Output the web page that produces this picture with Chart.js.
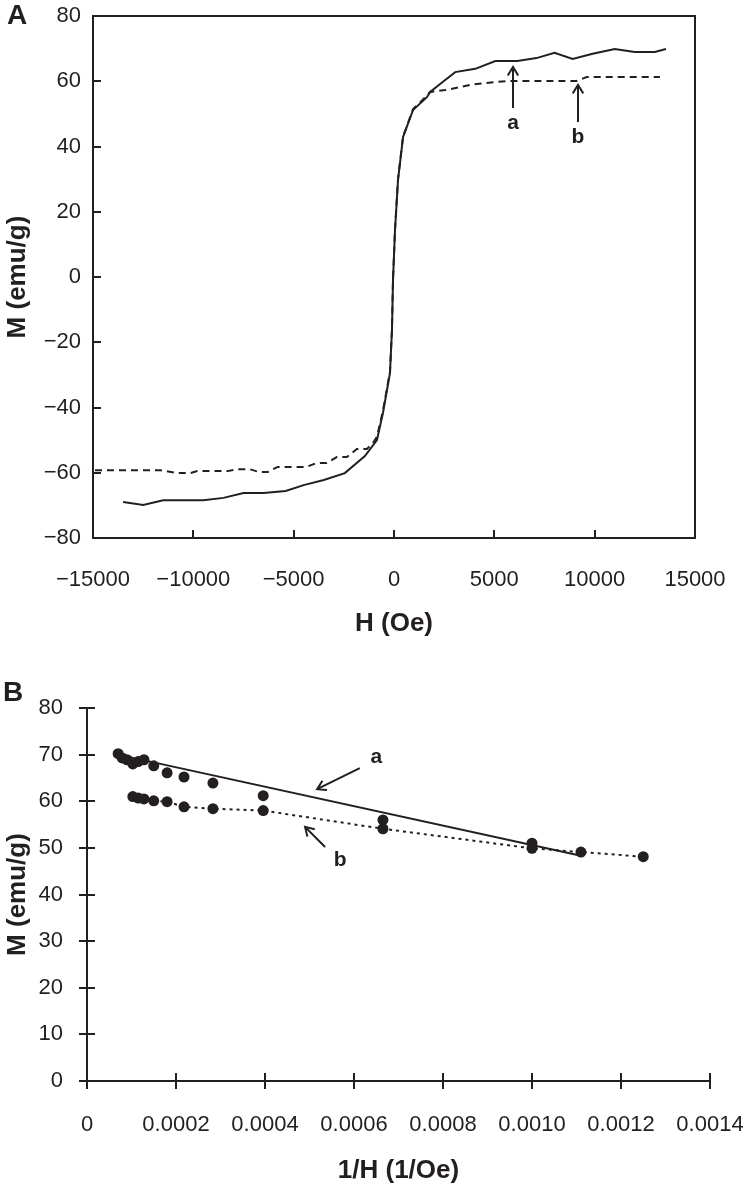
<!DOCTYPE html>
<html><head><meta charset="utf-8">
<script src="https://cdn.jsdelivr.net/npm/chart.js@4.4.1/dist/chart.umd.min.js"></script>
<style>
html,body{margin:0;padding:0;background:#fff;}
#wrap{position:relative;width:746px;height:1191px;overflow:hidden;}
#cA{position:absolute;left:0;top:0;}
#cB{position:absolute;left:0;top:660px;}
.lbl{position:absolute;font-family:"Liberation Sans",Arial,sans-serif;font-weight:bold;color:#231f20;font-size:28px;line-height:28px;}
</style></head>
<body>
<div id="wrap">
<canvas id="cA" width="746" height="639"></canvas>
<canvas id="cB" width="746" height="531"></canvas>
<div class="lbl" style="left:7px;top:1px;">A</div>
<div class="lbl" style="left:3px;top:678px;">B</div>
</div>
<script>
// ---------- Panel A data ----------
const hA_a = [-13500,-12500,-11500,-9500,-8500,-7500,-6500,-5400,-4500,-3500,-2450,-1450,-850,-550,-200,-100,-50,50,200,450,950,1650,1800,2550,3050,4050,5050,6150,7100,8000,8900,9900,11000,12000,13000,13550];
const mA_a = [-69.0,-69.9,-68.4,-68.4,-67.7,-66.2,-66.2,-65.6,-63.8,-62.2,-60.1,-54.9,-50.0,-41.7,-29.4,-16.0,-1.0,14.4,29.7,42.9,51.2,55.2,56.7,60.4,62.8,63.8,66.2,66.2,67.1,68.7,66.8,68.4,69.9,69.0,69.0,69.9];
const hA_b = [-14900,-11650,-10800,-10150,-9800,-8300,-7800,-7200,-6700,-6300,-5800,-4350,-3850,-3350,-2850,-2350,-1850,-1350,-1050,-850,-550,-200,-100,-50,50,200,450,950,1300,1800,2550,3300,3800,5150,5800,9100,9600,13250];
const mA_b = [-59.2,-59.2,-60.1,-60.1,-59.5,-59.5,-58.9,-58.9,-59.8,-59.8,-58.2,-58.2,-57.0,-57.0,-55.2,-55.2,-52.7,-52.7,-50.9,-49.0,-41.0,-29.0,-16.0,-1.0,14.4,30.0,43.0,51.5,53.5,56.7,57.3,58.2,58.9,59.8,60.1,60.1,61.3,61.3];
const xTicksA = [-15000,-10000,-5000,0,5000,10000,15000];
const yTicksA = [-80,-60,-40,-20,0,20,40,60,80];
// arrows A: [x, yTail, yHead, yLabel]
const arrowA_a = [5930, 51.8, 64.4, 47.2];
const arrowA_b = [9170, 47.5, 58.9, 43.0];

// ---------- Panel B data ----------
const vB_a = [0.000070,0.000079,0.000090,0.000103,0.000115,0.000128,0.000150,0.000180,0.000218,0.000283,0.000396,0.000665,0.001000,0.001110];
const mB_a = [70.2,69.3,68.9,68.0,68.5,68.9,67.6,66.1,65.2,63.9,61.2,56.0,51.0,49.1];
const vB_b = [0.000103,0.000115,0.000128,0.000150,0.000180,0.000218,0.000283,0.000396,0.000665,0.001000,0.001250];
const mB_b = [61.0,60.7,60.5,60.1,59.9,58.8,58.4,58.0,54.1,49.9,48.1];
const fitV_a = [0.00007,0.00111];
const fitM_a = [70.0,48.3];
const xTicksB = [0,0.0002,0.0004,0.0006,0.0008,0.0010,0.0012,0.0014];
const yTicksB = [0,10,20,30,40,50,60,70,80];
// arrows B: [xTail,yTail,xHead,yHead,xLabel,yLabel]
const arrowB_a = [0.000613,67.1,0.000517,62.6,0.00065,69.5];
const arrowB_b = [0.000535,50.2,0.00049,54.5,0.000569,47.4];

const INK = '#231f20';
const FONT = '"Liberation Sans", Arial, sans-serif';
const tickFont = {family: FONT, size: 22};
const titleFont = {family: FONT, size: 26, weight: 'bold'};

function zip(xs, ys){ return xs.map((x,i)=>({x:x,y:ys[i]})); }
function fmtA(v){ return v < 0 ? '\u2212' + Math.abs(v) : String(v); }
function fmtB(v){ if (v === 0) return '0'; return v.toFixed(4); }
function noPad(s){ s.paddingLeft = 0; s.paddingRight = 0; s.paddingTop = 0; s.paddingBottom = 0; }

function drawArrow(ctx, x1, y1, x2, y2){
  const ang = Math.atan2(y2-y1, x2-x1);
  const L = 10, W = 0.55;
  ctx.beginPath();
  ctx.moveTo(x1,y1); ctx.lineTo(x2,y2);
  ctx.moveTo(x2 - L*Math.cos(ang-W), y2 - L*Math.sin(ang-W));
  ctx.lineTo(x2,y2);
  ctx.lineTo(x2 - L*Math.cos(ang+W), y2 - L*Math.sin(ang+W));
  ctx.stroke();
}

const decoPlugin = {
  id: 'deco',
  afterDraw(chart, args, o){
    const ctx = chart.ctx, xs = chart.scales.x, ys = chart.scales.y, ca = chart.chartArea;
    ctx.save();
    ctx.strokeStyle = INK; ctx.fillStyle = INK; ctx.lineWidth = 2; ctx.lineCap = 'butt';
    if (o.box) { ctx.strokeRect(ca.left, ca.top, ca.right-ca.left, ca.bottom-ca.top); }
    xs.ticks.forEach(t => {
      const px = Math.round(xs.getPixelForValue(t.value));
      ctx.beginPath(); ctx.moveTo(px, ca.bottom + o.out); ctx.lineTo(px, ca.bottom - o.inn); ctx.stroke();
    });
    ys.ticks.forEach(t => {
      const py = Math.round(ys.getPixelForValue(t.value));
      ctx.beginPath(); ctx.moveTo(ca.left - o.out, py); ctx.lineTo(ca.left + o.inn, py); ctx.stroke();
    });
    ctx.font = 'bold 21px ' + FONT;
    ctx.textAlign = 'center'; ctx.textBaseline = 'middle';
    (o.vArrows || []).forEach(a => {
      const px = xs.getPixelForValue(a[0]);
      drawArrow(ctx, px, ys.getPixelForValue(a[1]), px, ys.getPixelForValue(a[2]));
      ctx.fillText(a[4], px, ys.getPixelForValue(a[3]));
    });
    (o.arrows || []).forEach(a => {
      drawArrow(ctx, xs.getPixelForValue(a[0]), ys.getPixelForValue(a[1]), xs.getPixelForValue(a[2]), ys.getPixelForValue(a[3]));
      ctx.fillText(a[6], xs.getPixelForValue(a[4]), ys.getPixelForValue(a[5]));
    });
    ctx.restore();
  }
};

new Chart(document.getElementById('cA'), {
  type: 'scatter',
  data: { datasets: [
    { data: zip(hA_a, mA_a), showLine: true, borderColor: INK, borderWidth: 2, pointRadius: 0, tension: 0, fill: false },
    { data: zip(hA_b, mA_b), showLine: true, borderColor: INK, borderWidth: 2, borderDash: [7,5], pointRadius: 0, tension: 0, fill: false }
  ]},
  options: {
    responsive: false, animation: false, devicePixelRatio: 1,
    layout: { padding: { left: 0, right: 51, top: 16, bottom: 0 } },
    plugins: { legend: {display:false}, tooltip: {enabled:false},
      deco: { box: true, inn: 8, out: 0, vArrows: [ arrowA_a.concat(['a']), arrowA_b.concat(['b']) ] } },
    scales: {
      x: { type: 'linear', min: -15000, max: 15000,
        afterBuildTicks: s => { s.ticks = xTicksA.map(v => ({value: v})); },
        ticks: { callback: fmtA, font: tickFont, color: INK, padding: 29, maxRotation: 0, autoSkip: false },
        grid: { display: false, drawTicks: false },
        border: { display: true, color: INK, width: 2 },
        title: { display: true, text: 'H (Oe)', font: titleFont, color: INK, padding: 0 },
        afterFit: s => { s.height = 101; noPad(s); } },
      y: { type: 'linear', min: -80, max: 80,
        afterBuildTicks: s => { s.ticks = yTicksA.map(v => ({value: v})); },
        ticks: { callback: fmtA, font: tickFont, color: INK, padding: 12, autoSkip: false },
        grid: { display: false, drawTicks: false },
        border: { display: true, color: INK, width: 2 },
        title: { display: true, text: 'M (emu/g)', font: titleFont, color: INK, padding: {top: 2, bottom: 0} },
        afterFit: s => { s.width = 93; noPad(s); } }
    }
  },
  plugins: [decoPlugin]
});

new Chart(document.getElementById('cB'), {
  type: 'scatter',
  data: { datasets: [
    { data: zip(fitV_a, fitM_a), showLine: true, borderColor: INK, borderWidth: 2, pointRadius: 0, tension: 0, fill: false },
    { data: zip(vB_b, mB_b), showLine: true, borderColor: INK, borderWidth: 2, borderDash: [3,4], pointRadius: 5.5, pointBackgroundColor: INK, pointBorderColor: INK, pointBorderWidth: 0, tension: 0, fill: false },
    { data: zip(vB_a, mB_a), showLine: false, pointRadius: 5.5, pointBackgroundColor: INK, pointBorderColor: INK, pointBorderWidth: 0 }
  ]},
  options: {
    responsive: false, animation: false, devicePixelRatio: 1,
    layout: { padding: { left: 0, right: 36, top: 48, bottom: 0 } },
    plugins: { legend: {display:false}, tooltip: {enabled:false},
      deco: { box: false, inn: 8, out: 8, arrows: [ arrowB_a.concat(['a']), arrowB_b.concat(['b']) ] } },
    scales: {
      x: { type: 'linear', min: 0, max: 0.0014,
        afterBuildTicks: s => { s.ticks = xTicksB.map(v => ({value: v})); },
        ticks: { callback: fmtB, font: tickFont, color: INK, padding: 31, maxRotation: 0, autoSkip: false },
        grid: { display: false, drawTicks: false },
        border: { display: true, color: INK, width: 2 },
        title: { display: true, text: '1/H (1/Oe)', font: titleFont, color: INK, padding: {top: 0, bottom: 5} },
        afterFit: s => { s.height = 110; noPad(s); } },
      y: { type: 'linear', min: 0, max: 80,
        afterBuildTicks: s => { s.ticks = yTicksB.map(v => ({value: v})); },
        ticks: { font: tickFont, color: INK, padding: 24, autoSkip: false },
        grid: { display: false, drawTicks: false },
        border: { display: true, color: INK, width: 2 },
        title: { display: true, text: 'M (emu/g)', font: titleFont, color: INK, padding: {top: 2, bottom: 0} },
        afterFit: s => { s.width = 87; noPad(s); } }
    }
  },
  plugins: [decoPlugin]
});
</script>
</body></html>
